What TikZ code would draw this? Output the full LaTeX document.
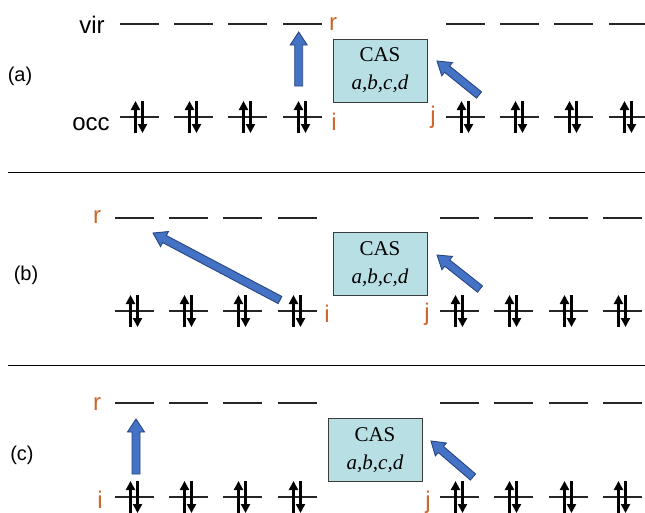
\documentclass[tikz,border=0pt]{standalone}
\usepackage{fontspec}
\setmainfont{Liberation Serif}
\newfontfamily\lsans{Liberation Sans}
\usetikzlibrary{arrows.meta,calc}
\definecolor{orlab}{RGB}{204,102,44}
\definecolor{fatfill}{RGB}{68,114,196}
\definecolor{fatline}{RGB}{40,70,130}
\definecolor{casfill}{RGB}{184,223,228}
\definecolor{casline}{RGB}{60,60,60}
\tikzset{
  level/.style={line width=1.3pt, black!85},
  spin/.style={line width=2.2pt, -{Triangle[width=9pt,length=9pt]}},
  fat/.style={fill=fatfill, draw=fatline, line width=0.9pt, line join=miter},
  casbox/.style={draw=casline, fill=casfill, line width=1pt, minimum width=94pt, minimum height=63pt, inner sep=0pt, align=center, font=\fontsize{21}{30}\selectfont},
  lab/.style={font=\lsans\fontsize{24}{24}\selectfont, anchor=base, inner sep=0pt},
  olab/.style={lab, text=orlab},
  plab/.style={font=\lsans\fontsize{20}{20}\selectfont, anchor=base, inner sep=0pt},
  sep/.style={line width=0.9pt, black}
}
\newcommand\levels[2]{\foreach \xs in {#2}{\draw[level] (\xs,#1) -- ++(39,0);}}
\newcommand\occs[2]{\foreach \xs in {#2}{%
  \draw[level] (\xs,#1) -- ++(39,0);
  \draw[spin] ({\xs+15.5},{#1+16}) -- ({\xs+15.5},{#1-16});
  \draw[spin] ({\xs+22.5},{#1-16}) -- ({\xs+22.5},{#1+16});}}
\newcommand\fatarrow[2]{%
  \coordinate (fh) at ($(#2)!13pt!(#1)$);
  \filldraw[fat] ($(#1)!4pt!90:(#2)$) -- ($(fh)!4pt!-90:(#1)$) -- ($(fh)!8.5pt!-90:(#1)$) -- (#2) -- ($(fh)!8.5pt!90:(#1)$) -- ($(fh)!4pt!90:(#1)$) -- ($(#1)!4pt!-90:(#2)$) -- cycle;}
\begin{document}
\begin{tikzpicture}[x=1pt,y=-1pt]
\useasboundingbox (0,0) rectangle (645,512);
% ---------- panel (a)
\levels{24}{120,174,228,283}
\levels{24}{446,500,554,609}
\occs{117}{120,174,228,283}
\occs{117}{446,500,554,609}
\node[lab] (vir) at (92,33) {vir};
\node[lab] (occ) at (91,130) {occ};
\node[plab] (pa) at (20,81) {(a)};
\node[olab] (ar) at (333,30) {r};
\node[olab] (ai) at (334,130) {i};
\node[olab] (aj) at (433,123) {j};
\node[casbox] (acas) at (380,70.5) {CAS\\[-2pt]\textit{a,b,c,d}};
\coordinate (aup0) at (298.7,86);
\coordinate (aup1) at (298.7,32);
\fatarrow{aup0}{aup1}
\coordinate (ad0) at (479,95);
\coordinate (ad1) at (437,61);
\fatarrow{ad0}{ad1}
\draw[sep] (8,172) -- (645,172);
% ---------- panel (b)
\levels{218}{115,169,223,278}
\levels{218}{440,494,549,603}
\occs{311}{115,169,223,278}
\occs{311}{440,494,549,603}
\node[plab] (pb) at (26,280) {(b)};
\node[olab] (br) at (97,223) {r};
\node[olab] (bi) at (327,322) {i};
\node[olab] (bj) at (427,320) {j};
\node[casbox] (bcas) at (380,264) {CAS\\[-2pt]\textit{a,b,c,d}};
\coordinate (bl0) at (280,300);
\coordinate (bl1) at (153,233);
\fatarrow{bl0}{bl1}
\coordinate (bd0) at (480,289);
\coordinate (bd1) at (437,255);
\fatarrow{bd0}{bd1}
\draw[sep] (8,365) -- (645,365);
% ---------- panel (c)
\levels{403}{115,169,223,278}
\levels{403}{440,494,549,603}
\occs{497}{115,169,223,278}
\occs{497}{440,494,549,603}
\node[plab] (pc) at (22,460) {(c)};
\node[olab] (cr) at (97,410) {r};
\node[olab] (ci) at (100,508) {i};
\node[olab] (cj) at (428,508) {j};
\node[casbox] (ccas) at (375,450) {CAS\\[-2pt]\textit{a,b,c,d}};
\coordinate (cup0) at (136,474);
\coordinate (cup1) at (136,419);
\fatarrow{cup0}{cup1}
\coordinate (cd0) at (473,477);
\coordinate (cd1) at (431,441);
\fatarrow{cd0}{cd1}
\end{tikzpicture}
\end{document}
